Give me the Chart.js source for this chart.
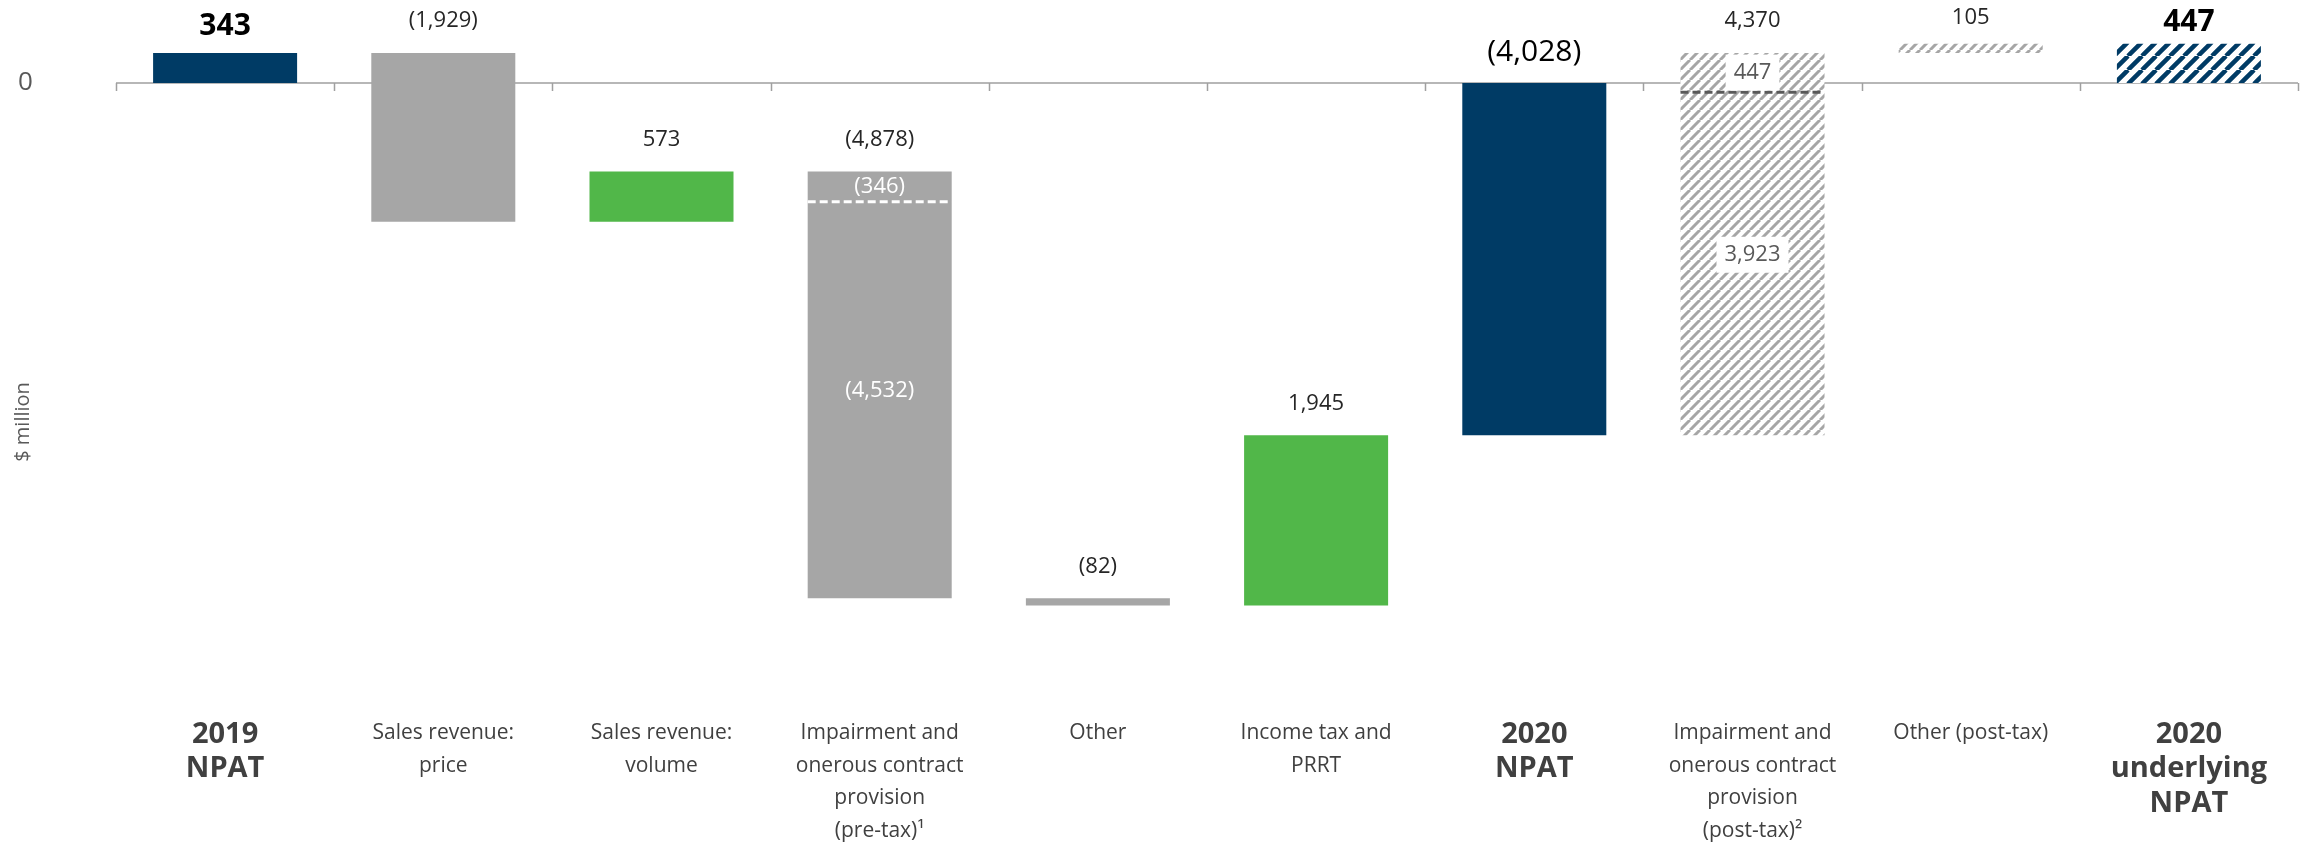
<!DOCTYPE html>
<html>
<head>
<meta charset="utf-8">
<script src="https://cdn.jsdelivr.net/npm/chart.js@4.4.1/dist/chart.umd.min.js"></script>
<style>
  html, body { margin: 0; padding: 0; background: #fff; }
  #wrap { width: 2305px; height: 843px; }
</style>
</head>
<body>
<div id="wrap"><canvas id="myChart"></canvas></div>
<script>
const categories = [
  ['2019', 'NPAT'],
  ['Sales revenue:', 'price'],
  ['Sales revenue:', 'volume'],
  ['Impairment and', 'onerous contract', 'provision', '(pre-tax)¹'],
  ['Other'],
  ['Income tax and', 'PRRT'],
  ['2020', 'NPAT'],
  ['Impairment and', 'onerous contract', 'provision', '(post-tax)²'],
  ['Other (post-tax)'],
  ['2020', 'underlying', 'NPAT']
];
const values = [343, -1929, 573, -4878, -82, 1945, -4028, 4370, 105, 447];
const isTotal = [true, false, false, false, false, false, true, false, false, true];
// split of the two impairment bars, in order from the bar's start
const preTaxParts = [-346, -4532];
const postTaxParts = [3923, 447];
const yTicks = [0];

const FONT = "'Open Sans', 'Noto Sans', sans-serif";
const NAVY = '#003b65';
const GREY = '#a6a6a6';
const GREEN = '#51b749';

function hatch(color, size, lw) {
  const c = document.createElement('canvas');
  c.width = c.height = size;
  const g = c.getContext('2d');
  g.fillStyle = '#fff';
  g.fillRect(0, 0, size, size);
  g.strokeStyle = color;
  g.lineWidth = lw;
  g.beginPath();
  for (const o of [-size, 0, size]) {
    g.moveTo(o, size);
    g.lineTo(o + size, 0);
  }
  g.stroke();
  return g.createPattern(c, 'repeat');
}

const greyHatch = hatch(GREY, 10, 3);
const navyHatch = hatch(NAVY, 14, 4.5);
const barColors = [NAVY, GREY, GREEN, GREY, GREY, GREEN, NAVY, greyHatch, greyHatch, navyHatch];

let run = 0;
const ranges = values.map((v, i) => {
  if (isTotal[i]) { run = v; return [0, v]; }
  const s = run;
  run += v;
  return [s, run];
});

function fmt(v) {
  const s = Math.abs(v).toLocaleString('en-US');
  return v < 0 ? '(' + s + ')' : s;
}

const isBoldCat = i => i === 0 || i === 6 || i === 9;

const decor = {
  id: 'decor',
  beforeDatasetsDraw(chart) {
    const { ctx, chartArea, scales: { y } } = chart;
    const y0 = y.getPixelForValue(0);
    const w = (chartArea.right - chartArea.left) / categories.length;
    ctx.save();
    ctx.strokeStyle = '#a0a0a0';
    ctx.lineWidth = 1.5;
    ctx.beginPath();
    ctx.moveTo(chartArea.left, y0);
    ctx.lineTo(chartArea.right, y0);
    for (let i = 0; i <= categories.length; i++) {
      const px = Math.round(chartArea.left + i * w) + 0.5;
      ctx.moveTo(px, y0);
      ctx.lineTo(px, y0 + 8);
    }
    ctx.stroke();
    // axis title
    ctx.translate(23, 422);
    ctx.rotate(-Math.PI / 2);
    ctx.fillStyle = '#595959';
    ctx.font = '20px ' + FONT;
    ctx.textAlign = 'center';
    ctx.textBaseline = 'middle';
    ctx.fillText('$ million', 0, 0);
    ctx.restore();
  },
  afterDatasetsDraw(chart) {
    const { ctx, scales: { y } } = chart;
    const bars = chart.getDatasetMeta(0).data;
    ctx.save();
    ctx.textAlign = 'center';
    ctx.textBaseline = 'middle';

    // value labels above each bar
    bars.forEach((b, i) => {
      const top = Math.min(b.y, b.base);
      let off = 32;
      if (i === 0) { ctx.font = 'bold 30px ' + FONT; ctx.fillStyle = '#000'; off = 27; }
      else if (i === 9) { ctx.font = 'bold 30px ' + FONT; ctx.fillStyle = '#000'; off = 21; }
      else if (i === 6) { ctx.font = '30px ' + FONT; ctx.fillStyle = '#000'; off = 31; }
      else { ctx.font = '22px ' + FONT; ctx.fillStyle = '#262626'; if (i === 8) off = 26; }
      ctx.fillText(fmt(values[i]), b.x, top - off);
    });

    // split segments inside the impairment bars
    function segments(i, parts, lineColor, textColor, boxed) {
      const b = bars[i];
      const half = b.width / 2;
      let acc = ranges[i][0];
      const edges = [acc];
      parts.forEach(p => { acc += p; edges.push(acc); });
      ctx.setLineDash([8, 4]);
      ctx.strokeStyle = lineColor;
      ctx.lineWidth = 3;
      for (let k = 1; k < edges.length - 1; k++) {
        const py = y.getPixelForValue(edges[k]);
        ctx.beginPath();
        ctx.moveTo(b.x - half, py);
        ctx.lineTo(b.x + half, py);
        ctx.stroke();
      }
      ctx.setLineDash([]);
      ctx.font = '22px ' + FONT;
      parts.forEach((p, k) => {
        const y1 = y.getPixelForValue(edges[k]);
        const y2 = y.getPixelForValue(edges[k + 1]);
        // tall segments carry their label a little above the middle
        const cy = (y1 + y2) / 2 - (Math.abs(y1 - y2) > 100 ? 9 : 0);
        const txt = fmt(p);
        if (boxed) {
          const tw = ctx.measureText(txt).width + 16;
          ctx.fillStyle = '#fff';
          ctx.fillRect(b.x - tw / 2, cy - 18, tw, 36);
        }
        ctx.fillStyle = textColor;
        ctx.fillText(txt, b.x, cy);
      });
    }
    segments(3, preTaxParts, '#fff', '#fff', false);
    segments(7, postTaxParts, '#595959', '#595959', true);
    ctx.restore();
  }
};

new Chart(document.getElementById('myChart'), {
  type: 'bar',
  data: {
    labels: categories,
    datasets: [{
      data: ranges,
      backgroundColor: barColors,
      borderWidth: 0,
      barPercentage: 0.66,
      categoryPercentage: 1
    }]
  },
  options: {
    responsive: true,
    maintainAspectRatio: false,
    animation: false,
    devicePixelRatio: 1,
    layout: { padding: { top: 3, right: 7, left: 18, bottom: 0 } },
    plugins: {
      legend: { display: false },
      tooltip: { enabled: false }
    },
    scales: {
      x: {
        grid: { display: false, drawTicks: false },
        border: { display: false },
        ticks: {
          autoSkip: false,
          maxRotation: 0,
          padding: 19,
          color: '#404040',
          font: c => isBoldCat(c.index)
            ? { family: FONT, size: 29, weight: 'bold', lineHeight: 1.2 }
            : { family: FONT, size: 21, lineHeight: 1.55 }
        },
        afterFit: s => { s.height = 145; }
      },
      y: {
        min: -7030,
        max: 770,
        grid: { display: false, drawTicks: false },
        border: { display: false },
        afterBuildTicks: s => { s.ticks = yTicks.map(v => ({ value: v })); },
        ticks: {
          padding: 0,
          crossAlign: 'far',
          color: '#595959',
          font: { family: FONT, size: 26 }
        },
        afterFit: s => { s.width = 98; }
      }
    }
  },
  plugins: [decor]
});
</script>
</body>
</html>
